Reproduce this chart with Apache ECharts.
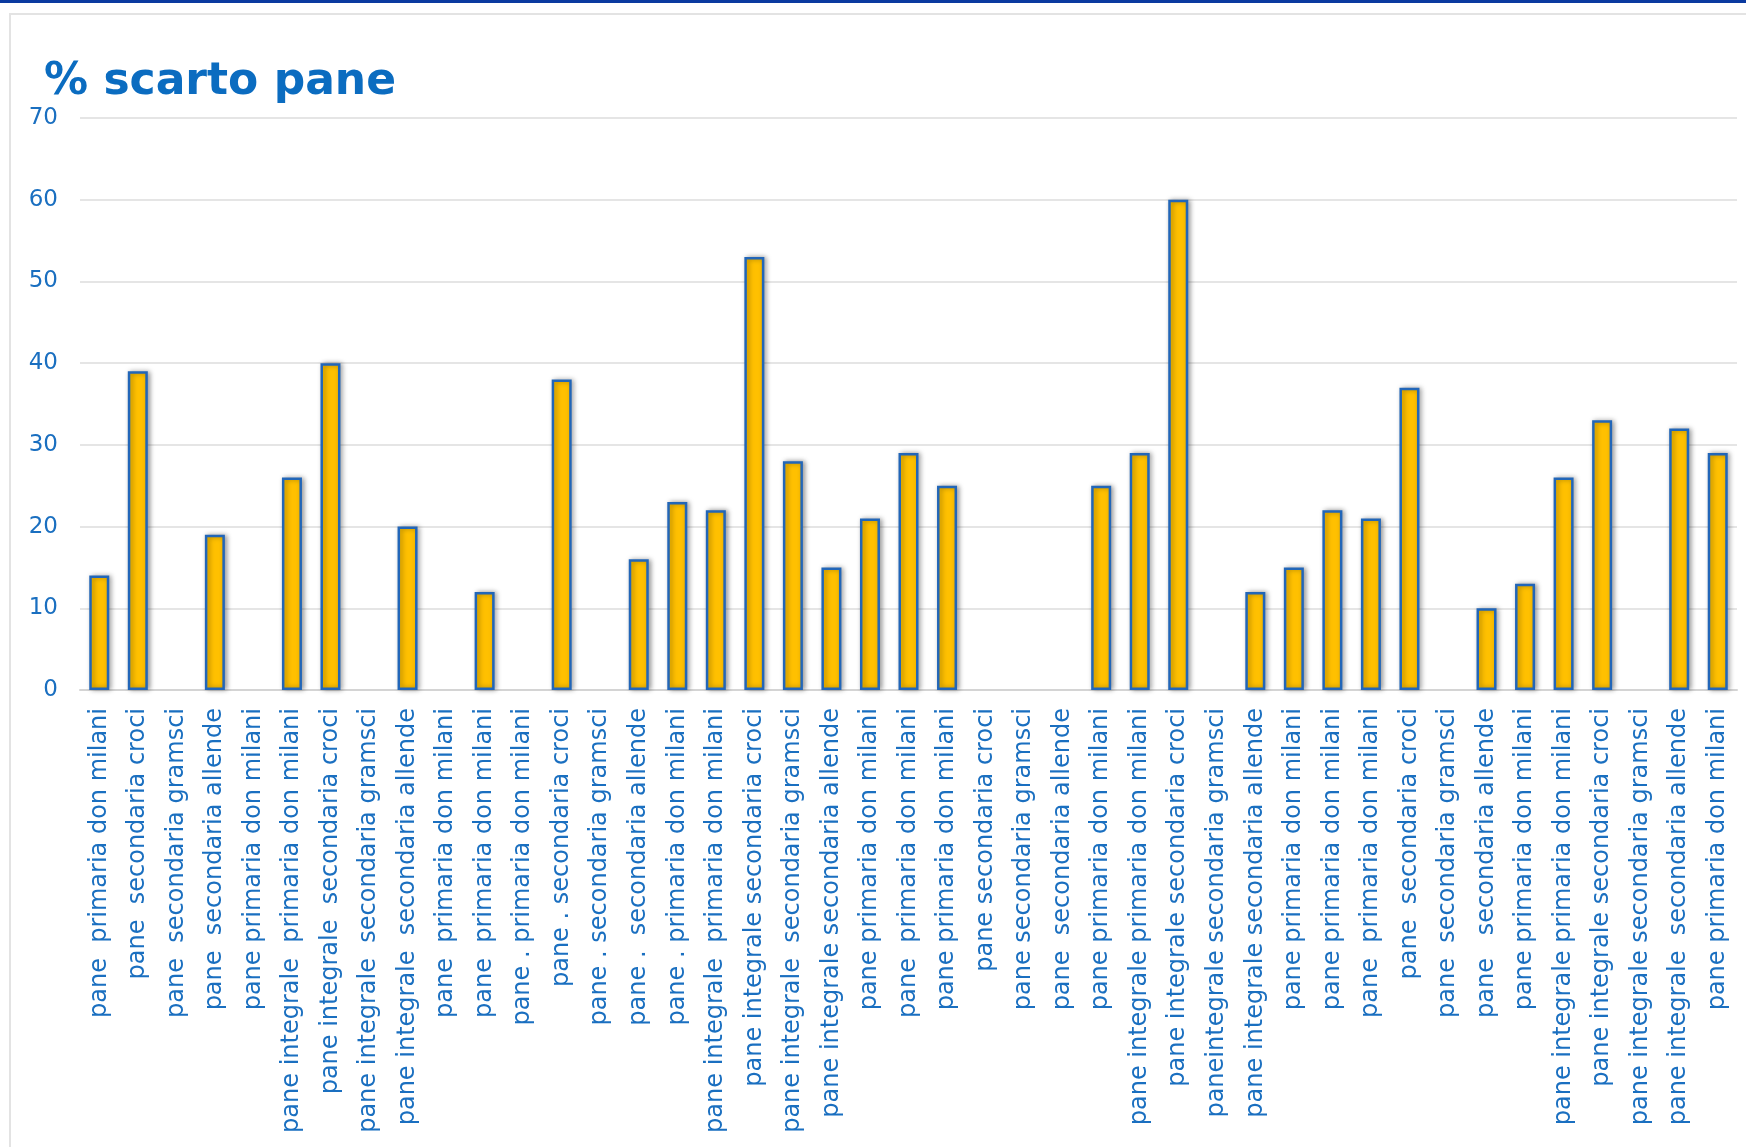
<!DOCTYPE html>
<html>
<head>
<meta charset="utf-8">
<script src="https://cdn.jsdelivr.net/npm/echarts@6/dist/echarts.min.js"></script>
<style>
html,body{margin:0;padding:0;background:#fff;}
#chart{width:1746px;height:1147px;}
</style>
</head>
<body>
<div id="chart"></div>
<script>
const titleText = '% scarto pane';
const categories = [
  'pane  primaria don milani',
  'pane  secondaria croci',
  'pane  secondaria gramsci',
  'pane  secondaria allende',
  'pane primaria don milani',
  'pane integrale  primaria don milani',
  'pane integrale  secondaria croci',
  'pane integrale  secondaria gramsci',
  'pane integrale  secondaria allende',
  'pane  primaria don milani',
  'pane  primaria don milani',
  'pane . primaria don milani',
  'pane . secondaria croci',
  'pane . secondaria gramsci',
  'pane .  secondaria allende',
  'pane . primaria don milani',
  'pane integrale  primaria don milani',
  'pane integrale secondaria croci',
  'pane integrale  secondaria gramsci',
  'pane integrale secondaria allende',
  'pane primaria don milani',
  'pane  primaria don milani',
  'pane primaria don milani',
  'pane secondaria croci',
  'pane secondaria gramsci',
  'pane  secondaria allende',
  'pane primaria don milani',
  'pane integrale primaria don milani',
  'pane integrale secondaria croci',
  'paneintegrale secondaria gramsci',
  'pane integrale secondaria allende',
  'pane primaria don milani',
  'pane primaria don milani',
  'pane  primaria don milani',
  'pane  secondaria croci',
  'pane  secondaria gramsci',
  'pane   secondaria allende',
  'pane primaria don milani',
  'pane integrale primaria don milani',
  'pane integrale secondaria croci',
  'pane integrale secondaria gramsci',
  'pane integrale  secondaria allende',
  'pane primaria don milani'
];
// blank cells (no bar) are null
const scartoValues = [
  14, 39, null, 19, null, 26, 40, null, 20, null,
  12, null, 38, null, 16, 23, 22, 53, 28, 15,
  21, 29, 25, null, null, null, 25, 29, 60, null,
  12, 15, 22, 21, 37, null, 10, 13, 26, 33,
  null, 32, 29
];
const yTicks = [0, 10, 20, 30, 40, 50, 60, 70];

const blue = '#1a6fc0';
const chart = echarts.init(document.getElementById('chart'), null, {renderer: 'canvas'});
chart.setOption({
  animation: false,
  backgroundColor: '#ffffff',
  graphic: [
    {type: 'rect', z: -10, shape: {x: 0, y: 0, width: 1746, height: 3}, style: {fill: '#0a3aa0'}},
    {type: 'rect', z: -10, shape: {x: 10, y: 14, width: 1760, height: 1160}, style: {fill: 'none', stroke: '#e3e3e3', lineWidth: 2}}
  ],
  title: {
    text: titleText,
    left: 44,
    top: 61,
    padding: 0,
    textStyle: {fontFamily: 'DejaVu Sans', fontWeight: 'bold', fontSize: 44, color: '#0b6cc0'}
  },
  grid: {left: 80, right: 9, top: 118, bottom: 457, containLabel: false},
  xAxis: {
    type: 'category',
    data: categories,
    axisLine: {show: true, lineStyle: {color: '#d4d4d4', width: 2}},
    axisTick: {show: false},
    axisLabel: {
      interval: 0,
      rotate: 90,
      margin: 18,
      fontFamily: 'DejaVu Sans',
      fontSize: 24,
      color: blue
    }
  },
  yAxis: {
    type: 'value',
    min: yTicks[0],
    max: yTicks[yTicks.length - 1],
    interval: 10,
    axisLine: {show: false},
    axisTick: {show: false},
    splitLine: {lineStyle: {color: '#dcdcdc', width: 1.5}},
    axisLabel: {margin: 22, fontFamily: 'DejaVu Sans', fontSize: 23, color: blue}
  },
  series: [{
    type: 'bar',
    data: scartoValues,
    barWidth: 20,
    itemStyle: {
      color: '#FFC000',
      borderColor: '#2266b8',
      borderWidth: 2.5,
      shadowColor: 'rgba(0,0,0,0.35)',
      shadowBlur: 5,
      shadowOffsetX: 2,
      shadowOffsetY: 0
    }
  }]
});
</script>
</body>
</html>
